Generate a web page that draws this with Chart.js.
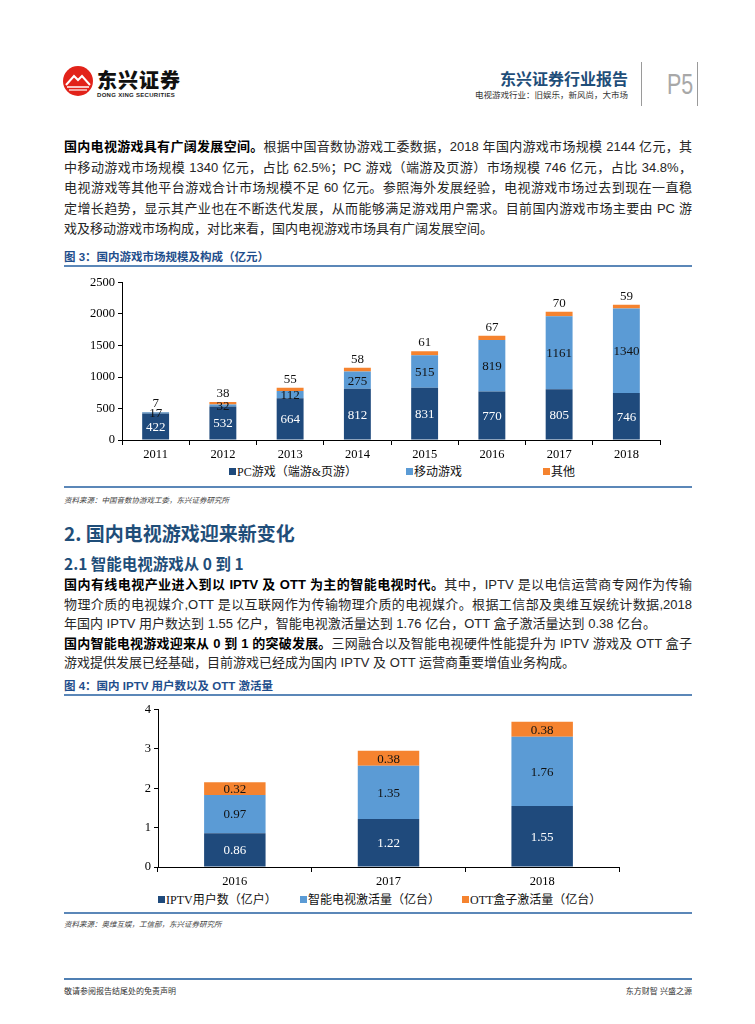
<!DOCTYPE html>
<html>
<head>
<meta charset="utf-8">
<script src="https://cdn.jsdelivr.net/npm/chart.js@4.4.0/dist/chart.umd.min.js"></script>
<style>
body { margin: 0; background: #fff; }
#page { position: relative; width: 755px; height: 1024px; overflow: hidden;
  font-family: "Liberation Sans", "Noto Sans CJK SC", sans-serif; color: #262626; }
.abs { position: absolute; white-space: nowrap; }
.para { position: absolute; left: 64px; width: 628px; font-size: 13px; line-height: 20px; }
.para div { white-space: nowrap; text-align: justify; text-align-last: justify; }
.para div.end { text-align-last: left; }
.para b { color: #000; }
.figtitle { position: absolute; left: 64px; font-size: 11.5px; line-height: 14px; font-weight: 700; color: #1F4E8C; }
.rule { position: absolute; left: 64px; width: 628px; height: 2px; background: #5B87B8; }
.src { position: absolute; left: 64px; font-size: 7.5px; font-style: italic; color: #444; }
.vline { position: absolute; top: 62px; width: 1px; height: 44px; background: #9a9a9a; }
.legend { position: absolute; left: 0; height: 14px; font-family: "Liberation Serif", "Noto Sans CJK SC", serif;
  font-size: 12px; line-height: 14px; color: #111; }
.legend span.item { position: absolute; top: 0; white-space: nowrap; }
.legend i { display: inline-block; width: 7px; height: 7px; margin-right: 1px; vertical-align: 1px; }
canvas { position: absolute; left: 64px; }
</style>
</head>
<body>
<div id="page">
  <!-- header -->
  <svg class="abs" style="left:62px;top:65px" width="32" height="32" viewBox="0 0 32 32">
    <circle cx="16" cy="16" r="15" fill="#E2231A"/>
    <polyline points="4,20 12,11 16,15 20,11 28,20" fill="none" stroke="#fff" stroke-width="2"/>
    <line x1="5" y1="22" x2="27" y2="22" stroke="#fff" stroke-width="1.5"/>
    <line x1="7" y1="25" x2="25" y2="25" stroke="#fff" stroke-width="1.2"/>
  </svg>
  <div class="abs" style="left:97px;top:65px;font-size:20px;font-weight:900;color:#111;letter-spacing:1px;font-family:'Noto Sans CJK SC'">东兴证券</div>
  <div class="abs" style="left:97px;top:92px;font-size:6px;font-weight:700;color:#222;letter-spacing:0.3px">DONG XING SECURITIES</div>
  <div class="abs" style="right:127px;top:66px;font-size:16px;font-weight:700;color:#1F4E79;font-family:'Noto Sans CJK SC'">东兴证券行业报告</div>
  <div class="abs" style="right:127px;top:88px;font-size:8.5px;color:#333">电视游戏行业：旧娱乐，新风尚，大市场</div>
  <div class="vline" style="left:641px"></div>
  <div class="abs" style="left:667px;top:67px;font-size:29px;color:#a8a8a8;line-height:34px;transform:scaleX(0.74);transform-origin:0 0">P5</div>
  <div class="vline" style="left:697px"></div>

  <!-- paragraph 1 -->
  <div class="para" style="top:137px;line-height:20.5px">
    <div><b>国内电视游戏具有广阔发展空间。</b>根据中国音数协游戏工委数据，2018 年国内游戏市场规模 2144 亿元，其</div>
    <div>中移动游戏市场规模 1340 亿元，占比 62.5%；PC 游戏（端游及页游）市场规模 746 亿元，占比 34.8%，</div>
    <div>电视游戏等其他平台游戏合计市场规模不足 60 亿元。参照海外发展经验，电视游戏市场过去到现在一直稳</div>
    <div>定增长趋势，显示其产业也在不断迭代发展，从而能够满足游戏用户需求。目前国内游戏市场主要由 PC 游</div>
    <div class="end">戏及移动游戏市场构成，对比来看，国内电视游戏市场具有广阔发展空间。</div>
  </div>

  <!-- figure 3 -->
  <div class="figtitle" style="top:250px">图 3：国内游戏市场规模及构成（亿元）</div>
  <div class="rule" style="top:265px"></div>
  <canvas id="chart3" width="628" height="190" style="top:272px"></canvas>
  <div class="legend" id="legend3" style="top:465px"></div>
  <div class="rule" style="top:486px"></div>
  <div class="src" style="top:494px">资料来源：中国音数协游戏工委，东兴证券研究所</div>

  <!-- section 2 -->
  <div class="abs" style="left:64px;top:519px;font-size:19px;font-weight:700;color:#1F4E79;font-family:'Noto Sans CJK SC'">2. 国内电视游戏迎来新变化</div>
  <div class="abs" style="left:64px;top:552px;font-size:15.5px;font-weight:700;color:#1F4E79;font-family:'Noto Sans CJK SC'">2.1 智能电视游戏从 0 到 1</div>

  <div class="para" style="top:575px;line-height:19.6px">
    <div><b>国内有线电视产业进入到以 IPTV 及 OTT 为主的智能电视时代。</b>其中，IPTV 是以电信运营商专网作为传输</div>
    <div>物理介质的电视媒介,OTT 是以互联网作为传输物理介质的电视媒介。根据工信部及奥维互娱统计数据,2018</div>
    <div class="end">年国内 IPTV 用户数达到 1.55 亿户，智能电视激活量达到 1.76 亿台，OTT 盒子激活量达到 0.38 亿台。</div>
    <div><b>国内智能电视游戏迎来从 0 到 1 的突破发展。</b>三网融合以及智能电视硬件性能提升为 IPTV 游戏及 OTT 盒子</div>
    <div class="end">游戏提供发展已经基础，目前游戏已经成为国内 IPTV 及 OTT 运营商重要增值业务构成。</div>
  </div>

  <!-- figure 4 -->
  <div class="figtitle" style="top:679px">图 4：国内 IPTV 用户数以及 OTT 激活量</div>
  <div class="rule" style="top:694px"></div>
  <canvas id="chart4" width="628" height="190" style="top:699px"></canvas>
  <div class="legend" id="legend4" style="top:893px"></div>
  <div class="rule" style="top:912px"></div>
  <div class="src" style="top:918px">资料来源：奥维互娱，工信部，东兴证券研究所</div>

  <!-- footer -->
  <div class="rule" style="top:978px;background:#4F7FB3"></div>
  <div class="abs" style="left:64px;top:985px;font-size:8px;color:#333">敬请参阅报告结尾处的免责声明</div>
  <div class="abs" style="right:63px;top:985px;font-size:8px;color:#333">东方财智 兴盛之源</div>
</div>

<script>
// 图3 数据
const years3 = ['2011', '2012', '2013', '2014', '2015', '2016', '2017', '2018'];
const pcGames = [422, 532, 664, 812, 831, 770, 805, 746];
const mobileGames = [17, 32, 112, 275, 515, 819, 1161, 1340];
const otherGames = [7, 38, 55, 58, 61, 67, 70, 59];
const names3 = ['PC游戏（端游&页游）', '移动游戏', '其他'];
const ticks3 = [0, 500, 1000, 1500, 2000, 2500];

// 图4 数据
const years4 = ['2016', '2017', '2018'];
const iptvUsers = [0.86, 1.22, 1.55];
const smartTv = [0.97, 1.35, 1.76];
const ottBox = [0.32, 0.38, 0.38];
const names4 = ['IPTV用户数（亿户）', '智能电视激活量（亿台）', 'OTT盒子激活量（亿台）'];
const ticks4 = [0, 1, 2, 3, 4];

const NAVY = '#1F4A7C';
const BLUE = '#5B9BD5';
const ORANGE = '#F5832F';
const serif = '"Liberation Serif", "Times New Roman", serif';

// numbers on the bars: inside segments, last series above the bar
const barLabels = {
    id: 'barLabels',
    afterDatasetsDraw(chart, args, opts) {
        const ctx = chart.ctx;
        ctx.save();
        ctx.font = '13px ' + serif;
        ctx.textAlign = 'center';
        chart.data.datasets.forEach(function(ds, di) {
            const meta = chart.getDatasetMeta(di);
            meta.data.forEach(function(bar, i) {
                const txt = ds.data[i].toFixed(opts.decimals);
                ctx.fillStyle = opts.colors[di];
                if (di === opts.aboveIndex) {
                    ctx.textBaseline = 'bottom';
                    ctx.fillText(txt, bar.x, bar.y - 2);
                } else {
                    ctx.textBaseline = 'middle';
                    ctx.fillText(txt, bar.x, (bar.y + bar.base) / 2 + 1);
                }
            });
        });
        ctx.restore();
    }
};

function makeOptions(maxY, stepY, yWidth, padRight, labelOpts) {
    return {
        responsive: false,
        animation: false,
        layout: { padding: { top: 10, right: padRight, left: 0, bottom: 0 } },
        plugins: {
            legend: { display: false },
            tooltip: { enabled: false },
            barLabels: labelOpts
        },
        scales: {
            x: {
                stacked: true,
                grid: { drawOnChartArea: false, tickLength: 5, color: '#000', offset: true },
                border: { color: '#000' },
                ticks: { color: '#000', padding: 2, font: { family: serif, size: 12.5 } },
                afterFit: function(s) { s.height = 22; }
            },
            y: {
                stacked: true,
                min: 0, max: maxY,
                grid: { drawOnChartArea: false, tickLength: 4, color: '#000' },
                border: { color: '#000' },
                ticks: {
                    stepSize: stepY, color: '#000', padding: 3, font: { family: serif, size: 12.5 },
                    callback: function(v) { return String(v); }
                },
                afterFit: function(s) { s.width = yWidth; }
            }
        }
    };
}

function bars(label, data, color) {
    return { label: label, data: data, backgroundColor: color, barPercentage: 0.4, categoryPercentage: 1 };
}

new Chart(document.getElementById('chart3').getContext('2d'), {
    type: 'bar',
    data: {
        labels: years3,
        datasets: [
            bars(names3[0], pcGames, NAVY),
            bars(names3[1], mobileGames, BLUE),
            bars(names3[2], otherGames, ORANGE)
        ]
    },
    options: makeOptions(ticks3[ticks3.length - 1], ticks3[1] - ticks3[0], 58, 32,
        { decimals: 0, aboveIndex: 2, colors: ['#fff', '#111', '#111'] }),
    plugins: [barLabels]
});

new Chart(document.getElementById('chart4').getContext('2d'), {
    type: 'bar',
    data: {
        labels: years4,
        datasets: [
            bars(names4[0], iptvUsers, NAVY),
            bars(names4[1], smartTv, BLUE),
            bars(names4[2], ottBox, ORANGE)
        ]
    },
    options: makeOptions(ticks4[ticks4.length - 1], ticks4[1] - ticks4[0], 94, 73,
        { decimals: 2, aboveIndex: -1, colors: ['#fff', '#111', '#111'] }),
    plugins: [barLabels]
});

// legends in the page, one item per series
function buildLegend(id, names, colors, xs) {
    const el = document.getElementById(id);
    names.forEach(function(n, i) {
        const s = document.createElement('span');
        s.className = 'item';
        s.style.left = xs[i] + 'px';
        s.innerHTML = '<i style="background:' + colors[i] + '"></i>' + n;
        el.appendChild(s);
    });
}
buildLegend('legend3', names3, [NAVY, BLUE, ORANGE], [229, 406, 543]);
buildLegend('legend4', names4, [NAVY, BLUE, ORANGE], [158, 300, 462]);
</script>
</body>
</html>
